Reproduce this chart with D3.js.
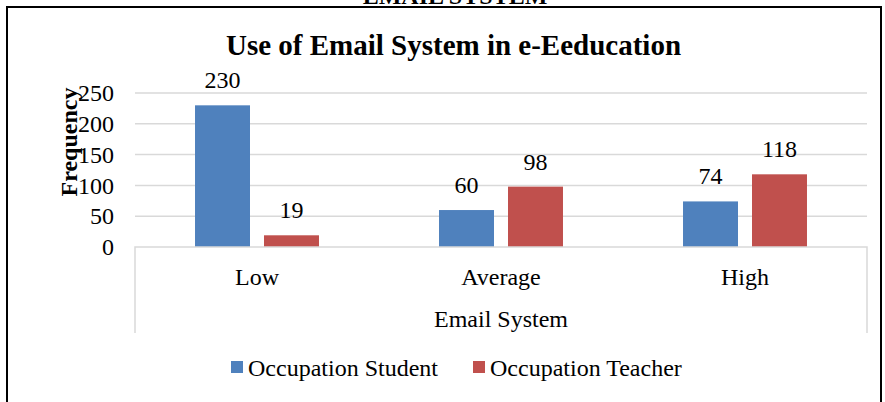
<!DOCTYPE html>
<html><head><meta charset="utf-8">
<script src="https://cdn.jsdelivr.net/npm/d3@7"></script>
<style>body{margin:0;background:#fff}svg{display:block}text{font-family:"Liberation Serif","Times New Roman",serif}</style>
</head><body>
<script>
const categories = ["Low", "Average", "High"];
const seriesNames = ["Occupation Student", "Occupation Teacher"];
const student = [230, 60, 74];
const teacher = [19, 98, 118];
const yTicks = [0, 50, 100, 150, 200, 250];
const colors = ["#4F81BD", "#C0504D"];

(function () {
const W = 885, H = 402;
const svg = d3.select("body").append("svg").attr("width", W).attr("height", H);

// clipped header text above border
svg.append("text").attr("x", 455).attr("y", 4).attr("text-anchor", "middle")
  .attr("font-size", 24).attr("font-weight", "bold").attr("fill", "#000").text("EMAIL SYSTEM");

svg.append("rect").attr("x", 0).attr("y", 6).attr("width", W).attr("height", H).attr("fill", "#fff");
// border
svg.append("path").attr("d", `M7,${H+5} L7,7 L881,7 L881,${H+5}`).attr("fill", "none")
  .attr("stroke", "#000").attr("stroke-width", 2);

const pLeft = 135, pRight = 867, pTop = 93, base = 247;
const y = d3.scaleLinear().domain([0, 250]).range([base, pTop]);
const x = d3.scaleBand().domain(categories).range([pLeft, pRight]).padding(0);
const x1 = d3.scaleBand().domain(seriesNames).range([0, x.bandwidth()]).paddingInner(0.203).paddingOuter(0.87);

// gridlines
svg.append("g").selectAll("line").data(yTicks.filter(d => d > 0)).join("line")
  .attr("x1", pLeft).attr("x2", pRight).attr("y1", d => y(d)).attr("y2", d => y(d))
  .attr("stroke", "#D9D9D9").attr("stroke-width", 1.5);

// y axis labels
const yAxis = d3.axisLeft(y).tickValues(yTicks).tickSize(0).tickPadding(0);
const gy = svg.append("g").attr("transform", `translate(114,0)`).call(yAxis);
gy.select(".domain").remove();
gy.selectAll("text").attr("font-size", 24).attr("fill", "#000").attr("font-family", "Liberation Serif");

// bars
const data = categories.map((c, i) => ({c, vals: [student[i], teacher[i]]}));
const groups = svg.append("g").selectAll("g").data(data).join("g")
  .attr("transform", d => `translate(${x(d.c)},0)`);
groups.selectAll("rect").data(d => d.vals.map((v, j) => ({s: seriesNames[j], v, j}))).join("rect")
  .attr("x", d => x1(d.s)).attr("width", x1.bandwidth())
  .attr("y", d => y(d.v)).attr("height", d => base - y(d.v))
  .attr("fill", d => colors[d.j]);
groups.selectAll("text").data(d => d.vals.map((v, j) => ({s: seriesNames[j], v, j}))).join("text")
  .attr("x", d => x1(d.s) + x1.bandwidth() / 2).attr("y", d => y(d.v) - 17)
  .attr("text-anchor", "middle").attr("font-size", 24).attr("fill", "#000").text(d => d.v);

// category axis box
svg.append("path").attr("d", `M${pLeft},333 L${pLeft},${base} L${pRight},${base} L${pRight},333`)
  .attr("fill", "none").attr("stroke", "#D9D9D9").attr("stroke-width", 1.5);
const xAxis = d3.axisBottom(x).tickSize(0).tickPadding(0);
const gx = svg.append("g").attr("transform", `translate(0,285)`).call(xAxis);
gx.select(".domain").remove();
gx.selectAll("text").attr("font-size", 24).attr("fill", "#000").attr("dy", 0).attr("font-family", "Liberation Serif");

svg.append("text").attr("x", (pLeft + pRight) / 2).attr("y", 327).attr("text-anchor", "middle")
  .attr("font-size", 24).attr("fill", "#000").text("Email System");

// title
svg.append("text").attr("x", 453.5).attr("y", 55).attr("text-anchor", "middle")
  .attr("font-size", 29).attr("font-weight", "bold").attr("fill", "#000").text("Use of Email System in e-Eeducation");

// y title
svg.append("text").attr("transform", `translate(77,142) rotate(-90)`).attr("text-anchor", "middle")
  .attr("font-size", 24).attr("font-weight", "bold").attr("fill", "#000").text("Frequency");

// legend
const leg = svg.append("g");
const legX = [231, 473];
seriesNames.forEach((s, i) => {
  leg.append("rect").attr("x", legX[i]).attr("y", 361).attr("width", 12).attr("height", 12).attr("fill", colors[i]);
  leg.append("text").attr("x", legX[i] + 17).attr("y", 376).attr("font-size", 24).attr("fill", "#000").text(s);
});
})();
</script>
</body></html>
